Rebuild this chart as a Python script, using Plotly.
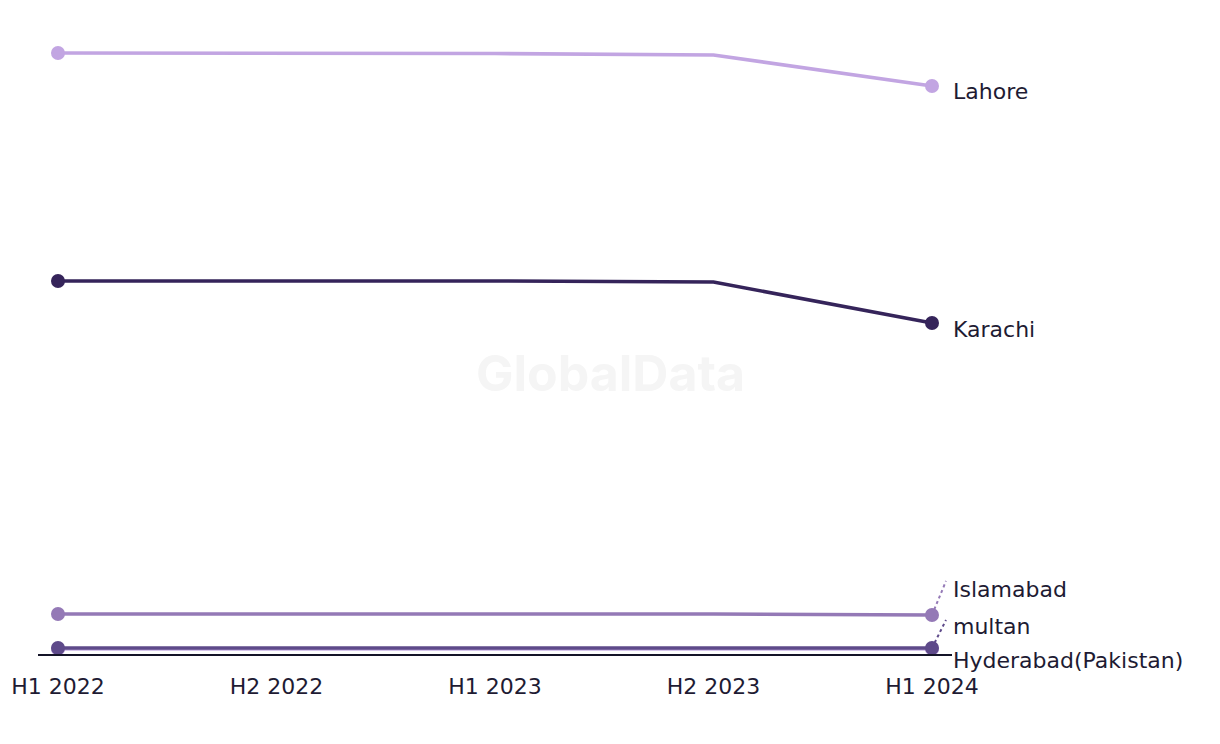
import plotly.graph_objects as go

periods = ["H1 2022", "H2 2022", "H1 2023", "H2 2023", "H1 2024"]
lahore = [601, 601, 600.5, 599, 568]
karachi = [373, 373, 373, 372, 331]
islamabad = [40, 40, 40, 40, 39]
hyderabad = [5, 5, 5, 5, 5]
multan = [6, 6, 6, 6, 6]

series = [
    ("Lahore", lahore, "#C2A5E2", -5, None),
    ("Karachi", karachi, "#35245A", -6, None),
    ("Islamabad", islamabad, "#9479B6", 26, (14, 34)),
    ("Hyderabad(Pakistan)", hyderabad, "#C9B2E6", -11, None),
    ("multan", multan, "#5E4A8A", 22, (14, 28)),
]

FONT = "DejaVu Sans, sans-serif"

fig = go.Figure()
for name, vals, col, _, _ in series:
    fig.add_trace(go.Scatter(
        x=periods, y=vals, mode="lines", name=name,
        line=dict(color=col, width=3.6), hoverinfo="skip", showlegend=False))
    fig.add_trace(go.Scatter(
        x=[periods[0], periods[-1]], y=[vals[0], vals[-1]], mode="markers",
        marker=dict(color=col, size=14), hoverinfo="skip", showlegend=False))

annotations = []
shapes = []
for name, vals, col, yshift, leader in series:
    annotations.append(dict(
        x=periods[-1], y=vals[-1], xref="x", yref="y", text=name,
        showarrow=False, xanchor="left", yanchor="middle",
        xshift=19, yshift=yshift,
        font=dict(family=FONT, size=22, color="#1E1B33")))
    if leader:
        shapes.append(dict(
            type="line", xref="x", yref="y", xsizemode="pixel", ysizemode="pixel",
            xanchor=4, yanchor=vals[-1], x0=0, y0=0, x1=leader[0], y1=leader[1],
            line=dict(color=col, width=2, dash="dot")))

annotations.append(dict(
    x=0.626, y=0.439, xref="paper", yref="paper", text="<b>GlobalData</b>",
    showarrow=False, font=dict(family="Inter, Roboto, sans-serif", size=50, color="#F5F5F5")))

fig.update_layout(
    width=1220, height=744,
    margin=dict(l=30, r=276, t=6, b=98, autoexpand=False),
    paper_bgcolor="white", plot_bgcolor="white",
    xaxis=dict(
        type="category", range=[-0.0915, 4.0915], showgrid=False, zeroline=False,
        automargin=False,
        showline=True, linecolor="#141428", linewidth=1.5,
        ticks="outside", ticklen=12, tickcolor="rgba(0,0,0,0)",
        tickfont=dict(family=FONT, size=22, color="#1E1B33")),
    yaxis=dict(range=[0, 640], showgrid=False, zeroline=False, showticklabels=False,
               showline=False, automargin=False),
    annotations=annotations, shapes=shapes,
)

fig.write_html("out.html")
